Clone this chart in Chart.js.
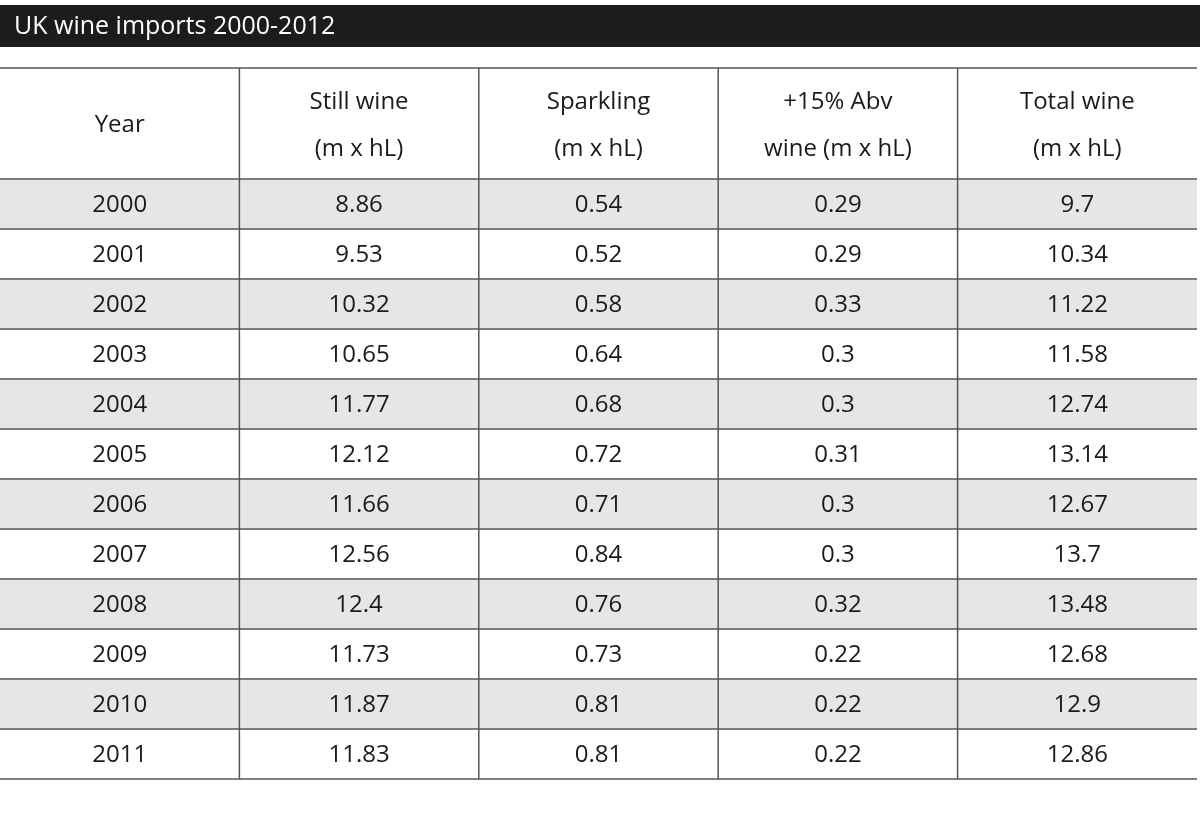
<!DOCTYPE html>
<html lang="en">
<head>
<meta charset="UTF-8" />
<title>UK wine imports 2000-2012</title>
<script src="https://cdn.jsdelivr.net/npm/chart.js"></script>
<style>
  html, body { margin: 0; padding: 0; background: #fff; }
  #wrap { width: 1200px; height: 822px; }
</style>
</head>
<body>
<div id="wrap"><canvas id="tbl"></canvas></div>
<script>
  const title = 'UK wine imports 2000-2012';
  const headers = [['Year'], ['Still wine', '(m x hL)'], ['Sparkling', '(m x hL)'], ['+15% Abv', 'wine (m x hL)'], ['Total wine', '(m x hL)']];
  const years = ['2000', '2001', '2002', '2003', '2004', '2005', '2006', '2007', '2008', '2009', '2010', '2011'];
  const still = ['8.86', '9.53', '10.32', '10.65', '11.77', '12.12', '11.66', '12.56', '12.4', '11.73', '11.87', '11.83'];
  const sparkling = ['0.54', '0.52', '0.58', '0.64', '0.68', '0.72', '0.71', '0.84', '0.76', '0.73', '0.81', '0.81'];
  const fortified = ['0.29', '0.29', '0.33', '0.3', '0.3', '0.31', '0.3', '0.3', '0.32', '0.22', '0.22', '0.22'];
  const total = ['9.7', '10.34', '11.22', '11.58', '12.74', '13.14', '12.67', '13.7', '13.48', '12.68', '12.9', '12.86'];

  const columns = [years, still, sparkling, fortified, total];
  const FONT = '"Open Sans", "Noto Sans", sans-serif';

  // striped background: every other row gets a full-width grey bar
  const stripe = years.map((y, i) => i % 2 === 0 ? [0, columns.length] : null);

  const tablePlugin = {
    id: 'tablePlugin',
    afterDatasetsDraw(chart) {
      const { ctx, scales: { x, y }, chartArea } = chart;
      const rowH = y.getPixelForValue(1) - y.getPixelForValue(0);
      const top = chartArea.top - 111;

      ctx.save();
      // title bar
      ctx.fillStyle = '#1c1c1c';
      ctx.fillRect(0, 5, chart.width, 42);
      ctx.fillStyle = '#fff';
      ctx.font = '25px ' + FONT;
      ctx.textBaseline = 'middle';
      ctx.textAlign = 'left';
      ctx.fillText(title, 14, 27);

      // grid lines
      ctx.strokeStyle = '#555';
      ctx.lineWidth = 1.5;
      const hline = yy => { ctx.beginPath(); ctx.moveTo(x.left, yy); ctx.lineTo(x.right, yy); ctx.stroke(); };
      hline(top);
      hline(chartArea.top);
      years.forEach((yr, i) => hline(y.getPixelForValue(i) + rowH / 2));
      for (let c = 1; c < columns.length; c++) {
        const xx = x.getPixelForValue(c);
        ctx.beginPath(); ctx.moveTo(xx, top); ctx.lineTo(xx, chartArea.bottom); ctx.stroke();
      }

      // header text
      ctx.fillStyle = '#1a1a1a';
      ctx.textAlign = 'center';
      ctx.font = '24px ' + FONT;
      headers.forEach((lines, c) => {
        const cx = x.getPixelForValue(c + 0.5);
        if (lines.length === 1) {
          ctx.fillText(lines[0], cx, top + 57);
        } else {
          ctx.fillText(lines[0], cx, top + 34);
          ctx.fillText(lines[1], cx, top + 81);
        }
      });

      // cell text
      columns.forEach((col, c) => {
        const cx = x.getPixelForValue(c + 0.5);
        col.forEach((v, i) => ctx.fillText(v, cx, y.getPixelForValue(i) + 1));
      });
      ctx.restore();
    }
  };

  new Chart(document.getElementById('tbl'), {
    type: 'bar',
    data: {
      labels: years,
      datasets: [{
        data: stripe,
        backgroundColor: '#e6e6e6',
        borderWidth: 0,
        barPercentage: 1,
        categoryPercentage: 1
      }]
    },
    options: {
      indexAxis: 'y',
      responsive: true,
      maintainAspectRatio: false,
      animation: false,
      events: [],
      layout: { padding: { top: 179, bottom: 43, left: 0, right: 3 } },
      plugins: { legend: { display: false }, tooltip: { enabled: false } },
      scales: {
        x: { type: 'linear', min: 0, max: columns.length, display: false },
        y: { type: 'category', display: false, offset: true }
      }
    },
    plugins: [tablePlugin]
  });
</script>
</body>
</html>
